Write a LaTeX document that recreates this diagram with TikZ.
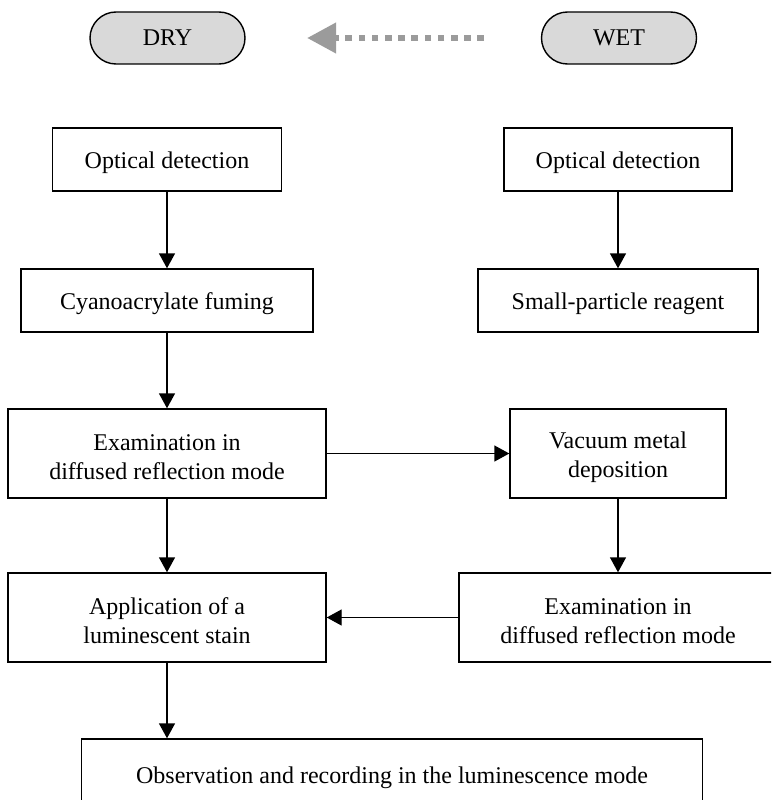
\documentclass[tikz,border=0pt]{standalone}
\usepackage{fontspec}
\setmainfont{Liberation Serif}
\usetikzlibrary{arrows.meta}
\newcommand\tstrut{\rule{0pt}{24pt}}
\begin{document}
\begin{tikzpicture}[x=1pt,y=-1pt,
  txt/.style={font=\fontsize{24}{29}\selectfont},
  box/.style={txt,draw,line width=1.4pt,align=center,inner sep=0pt},
  pill/.style={txt,draw,line width=1.4pt,fill={rgb,255:red,217;green,217;blue,217},rounded corners=26pt,minimum width=155pt,minimum height=52pt,inner sep=0pt},
  conn/.style={line width=1.4pt,-{Triangle[width=16pt,length=15pt]}},
  dotarrow/.style={draw={rgb,255:red,155;green,155;blue,155},line width=6.7pt,dash pattern=on 6.7pt off 6.5pt,-{Triangle[width=29pt,length=29pt]}}]
\clip (0,0) rectangle (771,800);
\fill[white] (0,0) rectangle (771,800);
% top pills
\node[pill] (dry) at (167.5,38) {DRY};
\node[pill] (wet) at (619,38) {WET};
\coordinate (dotS) at (484,38);
\coordinate (dotE) at (307,38);
\draw[dotarrow] (dotS) -- (dotE);
% boxes
\node[box,minimum width=229pt,minimum height=63pt] (optL) at (167,159.5) {\tstrut Optical detection};
\node[box,minimum width=228pt,minimum height=63pt] (optR) at (618,159.5) {\tstrut Optical detection};
\node[box,minimum width=292pt,minimum height=63pt] (cyan) at (167,300.5) {\tstrut Cyanoacrylate fuming};
\node[box,minimum width=280pt,minimum height=63pt] (small) at (618,300.5) {\tstrut Small-particle reagent};
\node[box,minimum width=318pt,minimum height=89pt] (examL) at (167,453.5) {\tstrut Examination in\\diffused reflection mode};
\node[box,minimum width=216pt,minimum height=89pt] (vac) at (618,453.5) {\tstrut Vacuum metal\\deposition};
\node[box,minimum width=318pt,minimum height=89pt] (appL) at (167,617.5) {\tstrut Application of a\\luminescent stain};
\node[box,minimum width=318pt,minimum height=89pt] (examR) at (618,617.5) {\tstrut Examination in\\diffused reflection mode};
\node[box,minimum width=621pt,minimum height=70pt] (obs) at (392,774) {\tstrut Observation and recording in the luminescence mode};
% connectors
\draw[conn] (optL) -- (cyan);
\draw[conn] (optR) -- (small);
\draw[conn] (cyan) -- (examL);
\draw[conn] (examL) -- (vac);
\draw[conn] (examL) -- (appL);
\draw[conn] (vac) -- (examR);
\draw[conn] (examR) -- (appL);
\draw[conn] (appL.south) -- (appL.south |- obs.north);
\end{tikzpicture}
\end{document}
